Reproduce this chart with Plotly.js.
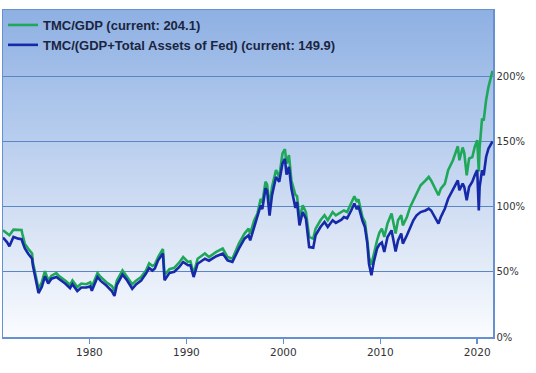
<!DOCTYPE html>
<html>
<head>
<meta charset="utf-8">
<script src="https://cdn.plot.ly/plotly-3.0.1.min.js"></script>
<style>html,body{margin:0;padding:0;background:#fff;}#chart{width:536px;height:373px;}</style>
</head>
<body>
<div id="chart"></div>
<script>
// Dates (monthly sample points)
const dates = [
"1971-02","1971-07","1971-10","1972-03","1972-09","1973-01","1973-02","1973-05","1973-09","1974-02",
"1974-03","1974-08","1974-10","1975-02","1975-06","1975-10","1976-02","1976-08","1976-11","1977-07",
"1978-01","1978-04","1978-10","1979-03","1979-09","1980-02","1980-04","1980-11","1981-03","1981-10",
"1982-05","1982-08","1982-11","1983-06","1983-11","1984-06","1984-11","1985-05","1985-11","1986-03",
"1986-07","1986-10","1987-02","1987-05","1987-08","1987-10","1988-04","1988-10","1989-04","1989-09",
"1990-03","1990-06","1990-10","1991-03","1991-12","1992-05","1993-02","1993-10","1994-04","1994-10",
"1995-06","1996-01","1996-06","1996-08","1997-01","1997-05","1997-09","1997-11","1998-03","1998-05",
"1998-08","1998-11","1999-04","1999-08","1999-12","2000-03","2000-05","2000-08","2000-11","2001-04",
"2001-06","2001-09","2002-01","2002-05","2002-09","2003-02","2003-05","2003-11","2004-04","2004-08",
"2005-02","2005-06","2006-01","2006-04","2006-08","2007-01","2007-05","2007-08","2007-10","2008-03",
"2008-06","2008-09","2008-11","2009-02","2009-05","2009-09","2009-12","2010-03","2010-06","2010-10",
"2011-03","2011-08","2011-11","2012-03","2012-05","2012-10","2013-02","2013-06","2013-10","2014-03",
"2014-09","2015-01","2015-04","2015-08","2016-01","2016-04","2016-09","2017-01","2017-07","2018-01",
"2018-03","2018-07","2018-09","2018-12","2019-03","2019-07","2019-10","2020-01","2020-03","2020-04",
"2020-07","2020-09","2020-12","2021-03","2021-08"
];
// TMC/GDP (%)
const tmcGdp = [
81.8,79.3,78,82.3,81.8,82,79,71.6,67.8,64,
57.5,43.4,37,42,50.5,43.4,47,49,47,43.4,
40,43.4,38.3,41,40.5,42,38.5,49,46,42,
39,35.5,43.4,51,46.5,40.5,43.4,46,51,56.5,
54.5,55.5,61.3,64.5,67.5,47.5,52,53,57,61.3,
57.5,58,48.6,60,64,61.3,65.2,67.8,61.3,60,
71.6,79.3,83.1,79.3,89.5,94.6,106,103,119,117,
99.7,115,127.9,122.7,140.7,144,133,139.4,120,109,
108,90.8,101,95.8,76.7,75.4,83,89.5,93.3,89.5,
95.8,93.3,95.8,97,95.8,102.3,107.9,103.5,105.6,92,
88.2,74,61.3,55.5,64,74,80,83,76.7,87,
94.6,79.3,89.5,93.3,85.6,92,99.7,104.8,111,116.3,
120,122.7,120,115,108.7,113.8,117.6,127.9,135.5,146.2,
135.5,145.3,141,124,136.8,138,145.7,150.9,127,145,
167.5,166,181.6,191.8,204.1
];
// TMC/(GDP+Total Assets of Fed) (%)
const tmcGdpFed = [
76.2,72.8,69.5,76.7,75.4,75,73,68,64,60,
55,41,33.7,38.3,46.5,41,44.7,46,44.7,41,
37.5,40.5,35.2,38,38,38.8,35.5,46,43,39.5,
35,31.5,40,47.8,44,37,40.5,43.2,48.6,53,
51,52.5,58.8,61,64,43.5,49,50,53.5,57.5,
55,55,46,56.2,60,58.5,61.9,64,58.8,57.5,
67.8,75.4,78,74,84.3,90.8,101,98,114,112,
93,108.7,122.7,119,133,136.5,124.5,130.4,113.8,99,
103.5,85.6,95.8,90.8,69,68.5,78,84.3,88.2,84.3,
89.5,87.5,90,92,91,97,102.3,98,100.5,89,
84.3,71.6,56.2,47.3,57.5,67.8,71,72.5,65.2,76.7,
81.8,65.5,74,79.3,71.6,78,84.3,89.5,93.3,95.8,
97,98.5,97,92,87,92,98.5,106,112.5,120,
112.5,117.6,115,104.8,115,119,124,127.9,97,115,
127.9,124,138,144.5,149.9
];
const seriesNames = ["TMC/GDP (current: 204.1)", "TMC/(GDP+Total Assets of Fed) (current: 149.9)"];
const yTickVals = [0, 50, 100, 150, 200];
const yTickText = ["0%", "50%", "100%", "150%", "200%"];

const svg = "<svg xmlns='http://www.w3.org/2000/svg' width='10' height='100' preserveAspectRatio='none'>" +
  "<defs><linearGradient id='g' x1='0' y1='0' x2='0' y2='1'>" +
  "<stop offset='0' stop-color='#8eb0e3'/><stop offset='0.35' stop-color='#b3caed'/>" +
  "<stop offset='0.7' stop-color='#dbe5f5'/><stop offset='1' stop-color='#fafcff'/>" +
  "</linearGradient></defs><rect width='10' height='100' fill='url(#g)'/></svg>";
const bgSrc = "data:image/svg+xml;charset=utf-8," + encodeURIComponent(svg);

const frame = "#6690cf";
const traces = [
  {x: dates, y: tmcGdp, name: seriesNames[0], type: "scatter", mode: "lines",
   line: {color: "#1fa85a", width: 2.6}, hoverinfo: "skip"},
  {x: dates, y: tmcGdpFed, name: seriesNames[1], type: "scatter", mode: "lines",
   line: {color: "#1629a8", width: 2.6}, hoverinfo: "skip"}
];
const layout = {
  width: 536, height: 373,
  margin: {l: 3, r: 43, t: 10, b: 36, pad: 0},
  paper_bgcolor: "#ffffff",
  plot_bgcolor: "rgba(0,0,0,0)",
  font: {family: "DejaVu Sans, sans-serif", color: "#333333", size: 10.5},
  showlegend: true,
  legend: {x: 0, y: 1, xanchor: "left", yanchor: "top", bgcolor: "rgba(0,0,0,0)",
           borderwidth: 0, itemwidth: 30, tracegroupgap: 0,
           font: {family: "Liberation Sans, Arial, sans-serif", size: 13, weight: "bold", color: "#1b2540"}},
  images: [{source: bgSrc, xref: "paper", yref: "paper", x: 0, y: 1, sizex: 1, sizey: 1,
            xanchor: "left", yanchor: "top", sizing: "stretch", layer: "below"}],
  xaxis: {type: "date", range: ["1971-02-01", "2021-08-18"], tick0: "1980-01-01", dtick: "M120",
          tickformat: "%Y", ticks: "outside", ticklen: 5, tickcolor: frame, tickwidth: 1.5,
          showgrid: false, showline: true, linecolor: frame, linewidth: 1.5, mirror: true,
          zeroline: false, tickfont: {size: 10.5, color: "#333333"}},
  yaxis: {side: "right", range: [0, 250.7], tickmode: "array", tickvals: yTickVals, ticktext: yTickText,
          ticks: "", showgrid: true, gridcolor: "#5a86c6", gridwidth: 1, showline: true,
          linecolor: frame, linewidth: 1.5, mirror: true, zeroline: false,
          tickfont: {size: 10, color: "#333333"}}
};
Plotly.newPlot("chart", traces, layout, {staticPlot: true, displayModeBar: false});
</script>
</body>
</html>
